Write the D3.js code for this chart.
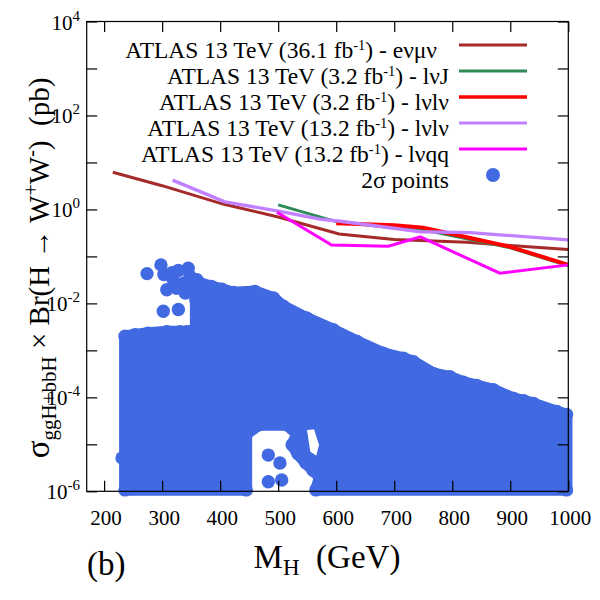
<!DOCTYPE html>
<html><head><meta charset="utf-8">
<script src="https://cdn.jsdelivr.net/npm/d3@7/dist/d3.min.js"></script>
<style>
body{margin:0;background:#fff}
text{font-family:"Liberation Serif","Times New Roman",serif;white-space:pre;fill:#000}
</style>
</head><body>
<svg id="chart" width="600" height="600"></svg>
<script>
// ---------- data ----------
const xTickValues = [200, 300, 400, 500, 600, 700, 800, 900, 1000];
const yTickExponents = [-6, -5, -4, -3, -2, -1, 0, 1, 2, 3, 4];
const yLabelExponents = ["-6", "-4", "-2", "0", "2", "4"];

// ATLAS 13 TeV (36.1 fb-1) e nu mu nu
const evmvMass = [215, 300, 405, 500, 605, 700, 825, 900, 1000];
const evmvXsec = [6.2, 3.2, 1.3, 0.69, 0.30, 0.23, 0.20, 0.17, 0.14];
// ATLAS 13 TeV (3.2 fb-1) l nu J
const lvJMass = [500, 600, 700, 750, 800, 900, 1000];
const lvJXsec = [1.25, 0.55, 0.40, 0.37, 0.275, 0.153, 0.063];
// ATLAS 13 TeV (3.2 fb-1) l nu l nu
const lvlv32Mass = [600, 700, 750, 800, 900, 1000];
const lvlv32Xsec = [0.51, 0.46, 0.41, 0.30, 0.16, 0.066];
// ATLAS 13 TeV (13.2 fb-1) l nu l nu
const lvlv132Mass = [318, 408, 503, 572, 607, 745, 831, 1000];
const lvlv132Xsec = [4.2, 1.45, 0.91, 0.62, 0.56, 0.335, 0.32, 0.224];
// ATLAS 13 TeV (13.2 fb-1) l nu q q
const lvqqMass = [498, 592, 690, 745, 882, 1000];
const lvqqXsec = [0.87, 0.174, 0.164, 0.26, 0.044, 0.066];

// 2 sigma scan points: outline points of the dense region (point centres)
const scanEdgeMass = [236, 236, 253, 276, 308, 331, 343, 358, 358, 365, 385, 403, 423, 460, 492, 509, 549,
  595, 636, 681, 716, 733, 768, 796, 819, 842, 871, 906, 923, 940, 980, 997, 997,
  565, 572, 560, 548, 534, 524, 533, 515, 467, 445, 445];
const scanEdgeXsec = [1.07e-6, 2.0e-3, 2.15e-3, 2.33e-3, 2.5e-3, 2.5e-3, 2.5e-3, 2.8e-3, 1.2e-2, 2.7e-2, 2.3e-2, 2.0e-2, 1.7e-2, 1.8e-2, 1.3e-2, 8.7e-3, 4.9e-3,
  2.75e-3, 1.55e-3, 8.7e-4, 6.8e-4, 5.75e-4, 3.2e-4, 2.75e-4, 2.1e-4, 1.8e-4, 1.45e-4, 9.5e-5, 8.5e-5, 7.4e-5, 5.0e-5, 4.3e-5, 1.07e-6,
  1.07e-6, 2.0e-6, 2.8e-6, 4.0e-6, 6.3e-6, 9.8e-6, 1.66e-5, 2.6e-5, 2.6e-5, 1.66e-5, 1.07e-6];
// an empty pocket inside the region
const scanGapMass = [538, 569, 581, 572, 546];
const scanGapXsec = [2.6e-5, 2.86e-5, 9.8e-6, 3.6e-6, 5.9e-6];
// separate scan points
const scanLooseMass = [274, 298, 303, 317, 328, 345, 348, 360, 308, 325, 340, 302, 328, 319, 337, 350, 231, 483, 483, 506, 503];
const scanLooseXsec = [4.3e-2, 6.6e-2, 4.1e-2, 4.5e-2, 5.0e-2, 5.6e-2, 3.8e-2, 3.2e-2, 1.95e-2, 2.1e-2, 1.66e-2, 6.8e-3, 7.4e-3, 3.2e-2, 2.7e-2, 2.3e-2, 5.1e-6, 5.9e-6, 1.6e-6, 1.74e-6, 4.0e-6];

const legendLabels = [
  ["ATLAS 13 TeV (36.1 fb", "-1", ") - eνμν"],
  ["ATLAS 13 TeV (3.2 fb", "-1", ") - lνJ"],
  ["ATLAS 13 TeV (3.2 fb", "-1", ") - lνlν"],
  ["ATLAS 13 TeV (13.2 fb", "-1", ") - lνlν"],
  ["ATLAS 13 TeV (13.2 fb", "-1", ") - lνqq"]
];
const pointsLabel = "2σ points";

// ---------- drawing ----------
const L = 86.7, R = 568.3, T = 21.5, B = 491.3;
const svg = d3.select("#chart");
const x = d3.scaleLinear().domain([170, 1000]).range([L, R]);
const y = d3.scaleLog().domain([1e-6, 1e4]).range([B, T]);

const blue = "#4169e1";
const pts = (m, s) => m.map((v, i) => [v, s[i]]);
const line = d3.line().x(d => x(d[0])).y(d => y(d[1]));

// scatter region
const edge = pts(scanEdgeMass, scanEdgeXsec);
const gap = pts(scanGapMass, scanGapXsec);
const R0 = 6.7;
svg.append("path")
  .attr("d", line(edge) + "Z" + line(gap) + "Z")
  .attr("fill", blue).attr("fill-rule", "evenodd")
  .attr("stroke", blue).attr("stroke-width", 2 * R0 - 1.6).attr("stroke-linejoin", "round");
svg.append("g").selectAll("circle")
  .data(edge.concat(pts(scanLooseMass, scanLooseXsec)))
  .join("circle").attr("cx", d => x(d[0])).attr("cy", d => y(d[1])).attr("r", R0).attr("fill", blue);

// limit curves
const series = [
  {m: evmvMass, s: evmvXsec, c: "#a52a2a", w: 3},
  {m: lvJMass, s: lvJXsec, c: "#2e8b57", w: 3},
  {m: lvlv32Mass, s: lvlv32Xsec, c: "#ff0000", w: 4},
  {m: lvlv132Mass, s: lvlv132Xsec, c: "#c080ff", w: 3.3},
  {m: lvqqMass, s: lvqqXsec, c: "#ff00ff", w: 3}
];
series.forEach(sr => {
  svg.append("path").attr("d", line(pts(sr.m, sr.s)))
    .attr("fill", "none").attr("stroke", sr.c).attr("stroke-width", sr.w).attr("stroke-linejoin", "miter");
});

// frame and ticks
svg.append("rect").attr("x", L).attr("y", T).attr("width", R - L).attr("height", B - T)
  .attr("fill", "none").attr("stroke", "#000").attr("stroke-width", 1.2);
const tl = 10.5;
const axB = d3.axisBottom(x).tickValues(xTickValues).tickSize(-tl).tickFormat("");
const axT = d3.axisTop(x).tickValues(xTickValues).tickSize(-tl).tickFormat("");
const decades = yTickExponents.map(e => Math.pow(10, e));
const axL = d3.axisLeft(y).tickValues(decades).tickSize(-tl).tickFormat("");
const axR = d3.axisRight(y).tickValues(decades).tickSize(-tl).tickFormat("");
[[axB, `translate(0,${B})`], [axT, `translate(0,${T})`], [axL, `translate(${L},0)`], [axR, `translate(${R},0)`]].forEach(([a, tr]) => {
  const g = svg.append("g").attr("transform", tr).call(a);
  g.select(".domain").remove();
  g.selectAll("line").attr("stroke", "#000").attr("stroke-width", 1.2);
});

// tick labels
svg.append("g").selectAll("text").data(xTickValues).join("text")
  .attr("x", d => x(d) + 2).attr("y", 525).attr("text-anchor", "middle").attr("font-size", 21).text(d => d);
const yl = svg.append("g").selectAll("text").data(yLabelExponents).join("text")
  .attr("x", 80).attr("y", d => y(Math.pow(10, +d)) + 8).attr("text-anchor", "end").attr("font-size", 21);
yl.append("tspan").text("10");
yl.append("tspan").attr("font-size", 15).attr("dy", -9).text(d => d);

// axis titles
const xt = svg.append("text").attr("x", 327).attr("y", 568).attr("text-anchor", "middle").attr("font-size", 33);
xt.append("tspan").text("M");
xt.append("tspan").attr("font-size", 23).attr("dy", 7).text("H");
xt.append("tspan").attr("dy", -7).text("  (GeV)");

svg.append("text").attr("x", 87).attr("y", 575).attr("font-size", 33).text("(b)");

const ytl = svg.append("text").attr("transform", "translate(49,268) rotate(-90)").attr("text-anchor", "middle").attr("font-size", 29);
ytl.append("tspan").attr("font-size", 33).text("σ");
ytl.append("tspan").attr("font-size", 21).attr("dy", 7).text("ggH+bbH");
ytl.append("tspan").attr("dy", -7).text(" × Br(H → W");
ytl.append("tspan").attr("font-size", 20).attr("dy", -11).text("+");
ytl.append("tspan").attr("dy", 11).text("W");
ytl.append("tspan").attr("font-size", 20).attr("dy", -11).text("-");
ytl.append("tspan").attr("dy", 11).text(")  (pb)");

// legend
const lg = svg.append("g");
legendLabels.forEach((lab, i) => {
  const ly = 45 + i * 26;
  const t = lg.append("text").attr("x", i === 0 ? 437 : 449).attr("y", ly + 12.5)
    .attr("text-anchor", "end").attr("font-size", 23.5);
  t.append("tspan").text(lab[0]);
  t.append("tspan").attr("font-size", 14.5).attr("dy", -7.5).text(lab[1]);
  t.append("tspan").attr("dy", 7.5).text(lab[2]);
  lg.append("line").attr("x1", 459).attr("x2", 527).attr("y1", ly).attr("y2", ly)
    .attr("stroke", series[i].c).attr("stroke-width", series[i].w === 4 ? 3.5 : 3);
});
lg.append("text").attr("x", 449).attr("y", 45 + 5 * 26 + 12.5).attr("text-anchor", "end").attr("font-size", 23.5).text(pointsLabel);
lg.append("circle").attr("cx", 493).attr("cy", 45 + 5 * 26).attr("r", 7).attr("fill", blue);
</script>
</body></html>
